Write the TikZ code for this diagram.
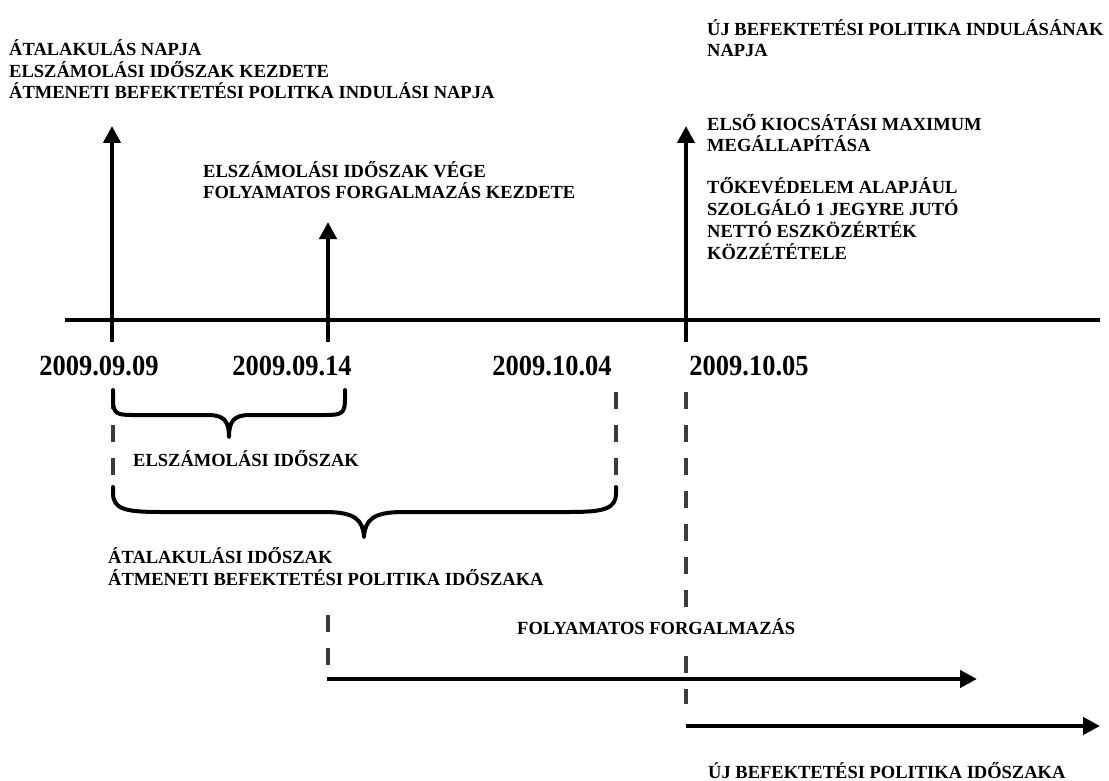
\documentclass[tikz,border=0pt]{standalone}
\usepackage{fontspec}
\setmainfont{Liberation Serif}
\usetikzlibrary{arrows.meta}
\definecolor{dashgray}{HTML}{3C3C3C}
\begin{document}
\begin{tikzpicture}[x=1pt,y=-1pt,
  lbl/.style={font=\bfseries\fontsize{18.5}{21.8}\selectfont, inner sep=0pt, align=left, anchor=base west},
  datelbl/.style={font=\bfseries\fontsize{26.5}{30}\selectfont, inner sep=0pt, anchor=base},
  axisline/.style={line width=4.5pt},
  arr/.style={line width=4.5pt, -{Triangle[width=17pt,length=17pt]}},
  dashline/.style={line width=4pt, draw=dashgray, dash pattern=on 17pt off 16pt},
  bracestyle/.style={line width=4pt, line cap=round, line join=round}]
\useasboundingbox (0,0) rectangle (1109,781);

% axis
\coordinate (axL) at (65,320);
\coordinate (axR) at (1100,320);
\draw[axisline] (axL) -- (axR);

% event arrows
\coordinate (e1) at (112,342); \coordinate (e1t) at (112,126);
\coordinate (e2) at (328,342); \coordinate (e2t) at (328,222);
\coordinate (e3) at (686,342); \coordinate (e3t) at (686,126);
\draw[arr] (e1) -- (e1t);
\draw[arr] (e2) -- (e2t);
\draw[arr] (e3) -- (e3t);

% top texts (base = baseline of the last line)
\node[lbl] (tl) at (9,99) {ÁTALAKULÁS NAPJA\\ELSZÁMOLÁSI IDŐSZAK KEZDETE\\ÁTMENETI BEFEKTETÉSI POLITKA INDULÁSI NAPJA};
\node[lbl] (tm) at (203,199) {ELSZÁMOLÁSI IDŐSZAK VÉGE\\FOLYAMATOS FORGALMAZÁS KEZDETE};
\node[lbl] (tr1) at (707,57) {ÚJ BEFEKTETÉSI POLITIKA INDULÁSÁNAK\\NAPJA};
\node[lbl] (tr2) at (707,152) {ELSŐ KIOCSÁTÁSI MAXIMUM\\MEGÁLLAPÍTÁSA};
\node[lbl] (tr3) at (707,259) {TŐKEVÉDELEM ALAPJÁUL\\SZOLGÁLÓ 1 JEGYRE JUTÓ\\NETTÓ ESZKÖZÉRTÉK\\KÖZZÉTÉTELE};

% dates
\node[datelbl] (d1) at (99,375) {\scalebox{1}[1.1]{2009.09.09}};
\node[datelbl] (d2) at (292,375) {\scalebox{1}[1.1]{2009.09.14}};
\node[datelbl] (d3) at (552,375) {\scalebox{1}[1.1]{2009.10.04}};
\node[datelbl] (d4) at (749,375) {\scalebox{1}[1.1]{2009.10.05}};

% dashed guide lines
\coordinate (g1a) at (113,392); \coordinate (g1b) at (113,476);
\coordinate (g2a) at (616,392); \coordinate (g2b) at (616,476);
\coordinate (g3a) at (686,392); \coordinate (g3b) at (686,704);
\coordinate (g4a) at (328,615); \coordinate (g4b) at (328,666);
\draw[dashline] (g1a) -- (g1b);
\draw[dashline] (g2a) -- (g2b);
\draw[dashline] (g3a) -- (g3b);
\draw[dashline] (g4a) -- (g4b);

% small brace
\draw[bracestyle] (113,390) -- (113,399) .. controls (113,413) and (116,415) .. (132,415)
  -- (208,415) .. controls (224,415) and (229,421) .. (229,437)
  .. controls (229,421) and (234,415) .. (250,415)
  -- (326,415) .. controls (342,415) and (345,413) .. (345,399) -- (345,390);
\node[lbl] (es) at (133,466) {ELSZÁMOLÁSI IDŐSZAK};

% big brace
\draw[bracestyle] (113,487) -- (113,493) .. controls (113,509) and (125,512) .. (160,512)
  -- (325,512) .. controls (355,512) and (363,520) .. (364,537)
  .. controls (365,520) and (373,512) .. (403,512)
  -- (569,512) .. controls (604,512) and (616,509) .. (616,493) -- (616,487);
\node[lbl] (at) at (108,585) {ÁTALAKULÁSI IDŐSZAK\\ÁTMENETI BEFEKTETÉSI POLITIKA IDŐSZAKA};

% bottom periods
\node[lbl, fill=white, inner xsep=1pt, inner ysep=6pt] (ff) at (516,634) {FOLYAMATOS FORGALMAZÁS};
\coordinate (p1a) at (327,679); \coordinate (p1b) at (977,679);
\coordinate (p2a) at (686,726); \coordinate (p2b) at (1100,726);
\draw[arr] (p1a) -- (p1b);
\draw[arr] (p2a) -- (p2b);
\node[lbl] (ub) at (708,778) {ÚJ BEFEKTETÉSI POLITIKA IDŐSZAKA};
\end{tikzpicture}
\end{document}
